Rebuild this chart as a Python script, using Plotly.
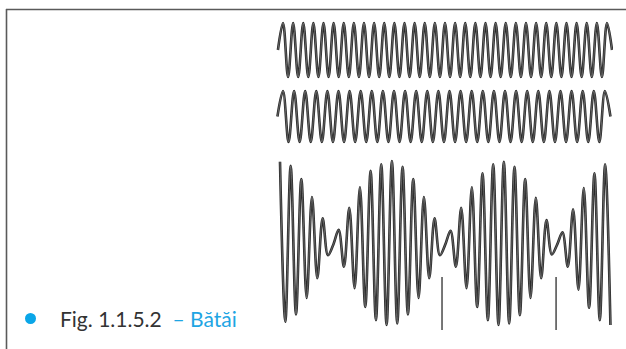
import plotly.graph_objects as go

# ---- data (extreme values of each waveform, normalised) ----
wave1_values = [0,
    1, -1, 1, -1, 1, -1, 1, -1, 1, -1, 1, -1, 1, -1, 1, -1,
    1, -1, 1, -1, 1, -1, 1, -1, 1, -1, 1, -1, 1, -1, 1, -1,
    1, -1, 1, -1, 1, -1, 1, -1, 1, -1, 1, -1, 1, -1, 1, -1,
    1, -1, 1, -1, 1, -1, 1, -1, 1, -1, 1, -1, 1, -1, 1, -1,
    1, 0]

wave2_values = [0,
    1, -1, 1, -1, 1, -1, 1, -1, 1, -1, 1, -1, 1, -1, 1, -1,
    1, -1, 1, -1, 1, -1, 1, -1, 1, -1, 1, -1, 1, -1, 1, -1,
    1, -1, 1, -1, 1, -1, 1, -1, 1, -1, 1, -1, 1, -1, 1, -1,
    1, -1, 1, -1, 1, -1, 1, -1, 1, -1,
    1, 0]

beat_values = [
    0.99, -0.96, 0.94, -0.87, 0.78, -0.67, 0.56, -0.43, 0.30, -0.15,
    -0.02, 0.16, -0.29, 0.43, -0.55, 0.68, -0.78, 0.88, -0.94, 0.96,
    -1.00, 1.00, -0.98, 0.93, -0.87, 0.78, -0.67, 0.56, -0.43, 0.30,
    -0.15, -0.02, 0.15, -0.29, 0.43, -0.55, 0.68, -0.78, 0.85, -0.94,
    0.96, -1.00, 0.99, -0.98, 0.93, -0.88, 0.78, -0.67, 0.55, -0.43,
    0.28, -0.14, -0.02, 0.13, -0.29, 0.41, -0.57, 0.67, -0.79, 0.85,
    -0.94, 0.96, -1.00]

beat_marker_idx = [30.4, 51.8]
beat_marker_top = -0.415

caption_main = "Fig. 1.1.5.2"
caption_title = "– Bătăi"

# ---- figure ----
W, H = 626, 349
def px_x(p):
    return p / W
def px_y(p):
    return 1 - p / H

line_dark = dict(color="#2a2a2a", width=2.6, shape="spline", smoothing=1.0)
line_light = dict(color="#8c8c8c", width=0.6, shape="spline", smoothing=1.0)

fig = go.Figure()

x1 = [i - 1 for i in range(len(wave1_values))]
x2 = [i - 1 for i in range(len(wave2_values))]
x3 = list(range(len(beat_values)))

for xs, ys, xa, ya in [(x1, wave1_values, "x", "y"),
                       (x2, wave2_values, "x2", "y2"),
                       (x3, beat_values, "x3", "y3")]:
    fig.add_trace(go.Scatter(x=xs, y=ys, mode="lines", line=line_dark,
                             xaxis=xa, yaxis=ya, hoverinfo="skip", showlegend=False))
    fig.add_trace(go.Scatter(x=xs, y=ys, mode="lines", line=line_light,
                             xaxis=xa, yaxis=ya, hoverinfo="skip", showlegend=False))

for m in beat_marker_idx:
    fig.add_trace(go.Scatter(x=[m, m], y=[beat_marker_top, -1.2], mode="lines",
                             line=dict(color="#555555", width=1.6),
                             xaxis="x3", yaxis="y3", hoverinfo="skip", showlegend=False))

xdom = [px_x(276), px_x(613)]
hidden = dict(visible=False, showgrid=False, zeroline=False, fixedrange=True)

fig.update_layout(
    width=W, height=H, autosize=False,
    margin=dict(l=0, r=0, t=0, b=0),
    paper_bgcolor="white", plot_bgcolor="rgba(0,0,0,0)",
    xaxis=dict(domain=xdom, range=[-1.383, 65.19], anchor="y", **hidden),
    yaxis=dict(domain=[px_y(82), px_y(18)], range=[-1.185, 1.185], anchor="x", **hidden),
    xaxis2=dict(domain=xdom, range=[-1.26, 59.46], anchor="y2", **hidden),
    yaxis2=dict(domain=[px_y(148), px_y(86)], range=[-1.235, 1.196], anchor="x2", **hidden),
    xaxis3=dict(domain=xdom, range=[-0.75, 62.48], anchor="y3", **hidden),
    yaxis3=dict(domain=[px_y(330), px_y(156)], range=[-1.061, 1.061], anchor="x3", **hidden),
    shapes=[
        dict(type="line", xref="paper", yref="paper", x0=px_x(6), x1=1.0,
             y0=px_y(9.5), y1=px_y(9.5), line=dict(color="#5a5a5a", width=1.6)),
        dict(type="line", xref="paper", yref="paper", x0=px_x(6.5), x1=px_x(6.5),
             y0=px_y(9), y1=0, line=dict(color="#5a5a5a", width=1.6)),
        dict(type="circle", xref="paper", yref="paper",
             x0=px_x(25), x1=px_x(36), y0=px_y(324), y1=px_y(313),
             fillcolor="#0aa6e8", line=dict(width=0)),
    ],
    annotations=[
        dict(xref="paper", yref="paper", x=px_x(58), y=px_y(318),
             xanchor="left", yanchor="middle", showarrow=False,
             text=caption_main + "  <span style='color:#1ea5e3'>" + caption_title + "</span>",
             font=dict(family="Lato", size=21, color="#333333")),
    ],
)

fig.write_html("out.html", config={"displayModeBar": False},
               post_script="document.body.style.margin='0';document.body.style.overflow='hidden';")
